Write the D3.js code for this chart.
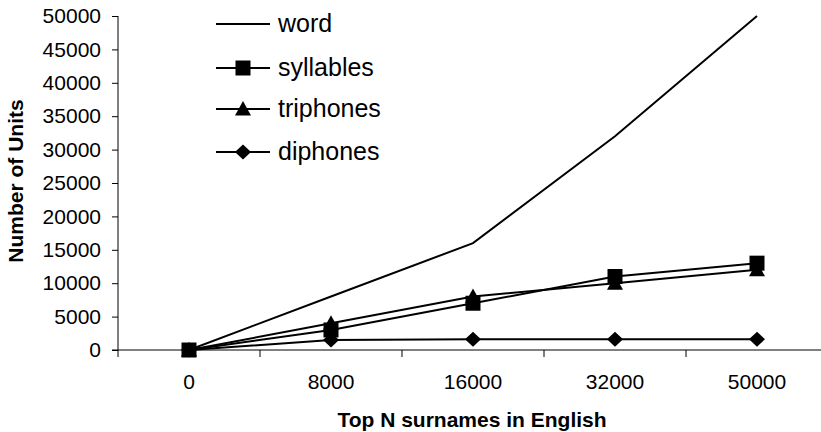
<!DOCTYPE html>
<html>
<head>
<meta charset="utf-8">
<script src="https://cdn.jsdelivr.net/npm/d3@7"></script>
<style>
  html, body { margin: 0; padding: 0; background: #fff; }
  svg { display: block; font-family: "Liberation Sans", Arial, sans-serif; }
</style>
</head>
<body>
<svg id="chart" width="821" height="432"></svg>
<script>
// Category labels on the x axis (top N surnames)
const categories = ["0", "8000", "16000", "32000", "50000"];

// Number of units per series
const word      = [0, 8000, 16000, 32000, 50000];
const syllables = [0, 3000, 7000, 11000, 13000];
const triphones = [0, 4000, 8000, 10000, 12000];
const diphones  = [0, 1500, 1600, 1600, 1600];

const seriesNames = ["word", "syllables", "triphones", "diphones"];
const seriesMarkers = ["none", "square", "triangle", "diamond"];

const yTicks = [0, 5000, 10000, 15000, 20000, 25000, 30000, 35000, 40000, 45000, 50000];

const series = [word, syllables, triphones, diphones].map((values, i) => ({
  name: seriesNames[i], marker: seriesMarkers[i], values
}));

const svg = d3.select("#chart");
const width = 821, height = 432;
const margin = { left: 118, top: 16, bottom: 82 };
const plotBottom = height - margin.bottom; // baseline of the value axis

const x = d3.scaleBand()
  .domain(categories)
  .range([margin.left, margin.left + 142 * categories.length])
  .paddingInner(0).paddingOuter(0);

const y = d3.scaleLinear()
  .domain([0, 50000])
  .range([plotBottom, margin.top]);

const cx = c => x(c) + x.bandwidth() / 2;

// Y axis
const yAxis = svg.append("g")
  .attr("transform", `translate(${margin.left},0)`)
  .call(d3.axisLeft(y).tickValues(yTicks).tickFormat(d3.format("d"))
    .tickSize(6).tickPadding(11).tickSizeOuter(0));
yAxis.select(".domain").attr("d", `M0,${margin.top}V${plotBottom + 7}`);
yAxis.selectAll("text").attr("font-size", 21).attr("fill", "#000")
  .attr("font-family", "Liberation Sans, Arial, sans-serif");
yAxis.selectAll("line, path").attr("stroke", "#000").attr("stroke-width", 1);

// X axis: tick marks sit between categories
const xAxis = svg.append("g")
  .attr("transform", `translate(0,${plotBottom})`);
xAxis.append("line")
  .attr("x1", margin.left - 6).attr("x2", width)
  .attr("stroke", "#000");
xAxis.selectAll("line.tick")
  .data(categories)
  .join("line")
  .attr("class", "tick")
  .attr("x1", d => x(d) + x.bandwidth()).attr("x2", d => x(d) + x.bandwidth())
  .attr("y1", 0).attr("y2", 7)
  .attr("stroke", "#000");
xAxis.selectAll("text")
  .data(categories)
  .join("text")
  .attr("x", d => cx(d))
  .attr("y", 39)
  .attr("text-anchor", "middle")
  .attr("font-size", 21)
  .text(d => d);

// Axis titles
svg.append("text")
  .attr("transform", `translate(23,181) rotate(-90)`)
  .attr("text-anchor", "middle")
  .attr("font-size", 21)
  .attr("font-weight", "bold")
  .text("Number of Units");

svg.append("text")
  .attr("x", 472)
  .attr("y", 427)
  .attr("text-anchor", "middle")
  .attr("font-size", 21)
  .attr("font-weight", "bold")
  .text("Top N surnames in English");

// Marker shapes
const markerPath = {
  square: "M-7.5,-7.5H7.5V7.5H-7.5Z",
  triangle: "M0,-8L8,6.5L-8,6.5Z",
  diamond: "M0,-7.5L8,0L0,7.5L-8,0Z"
};

const line = d3.line()
  .x((d, i) => cx(categories[i]))
  .y(d => y(d));

const plot = svg.append("g");
series.forEach(s => {
  plot.append("path")
    .datum(s.values)
    .attr("d", line)
    .attr("fill", "none")
    .attr("stroke", "#000")
    .attr("stroke-width", 2);
});
series.forEach(s => {
  if (s.marker === "none") return;
  plot.selectAll(null)
    .data(s.values)
    .join("path")
    .attr("transform", (d, i) => `translate(${cx(categories[i])},${y(d)})`)
    .attr("d", markerPath[s.marker])
    .attr("fill", "#000");
});

// Legend
const legend = svg.append("g");
const legendRows = [24, 68, 109, 152];
series.forEach((s, i) => {
  const g = legend.append("g").attr("transform", `translate(216,${legendRows[i]})`);
  g.append("line").attr("x1", 0).attr("x2", 54).attr("stroke", "#000").attr("stroke-width", 2);
  if (s.marker !== "none") {
    g.append("path").attr("transform", "translate(27,0)")
      .attr("d", markerPath[s.marker]).attr("fill", "#000");
  }
  g.append("text")
    .attr("x", 62).attr("y", 0).attr("dy", "0.33em")
    .attr("font-size", 25)
    .text(s.name);
});
</script>
</body>
</html>
